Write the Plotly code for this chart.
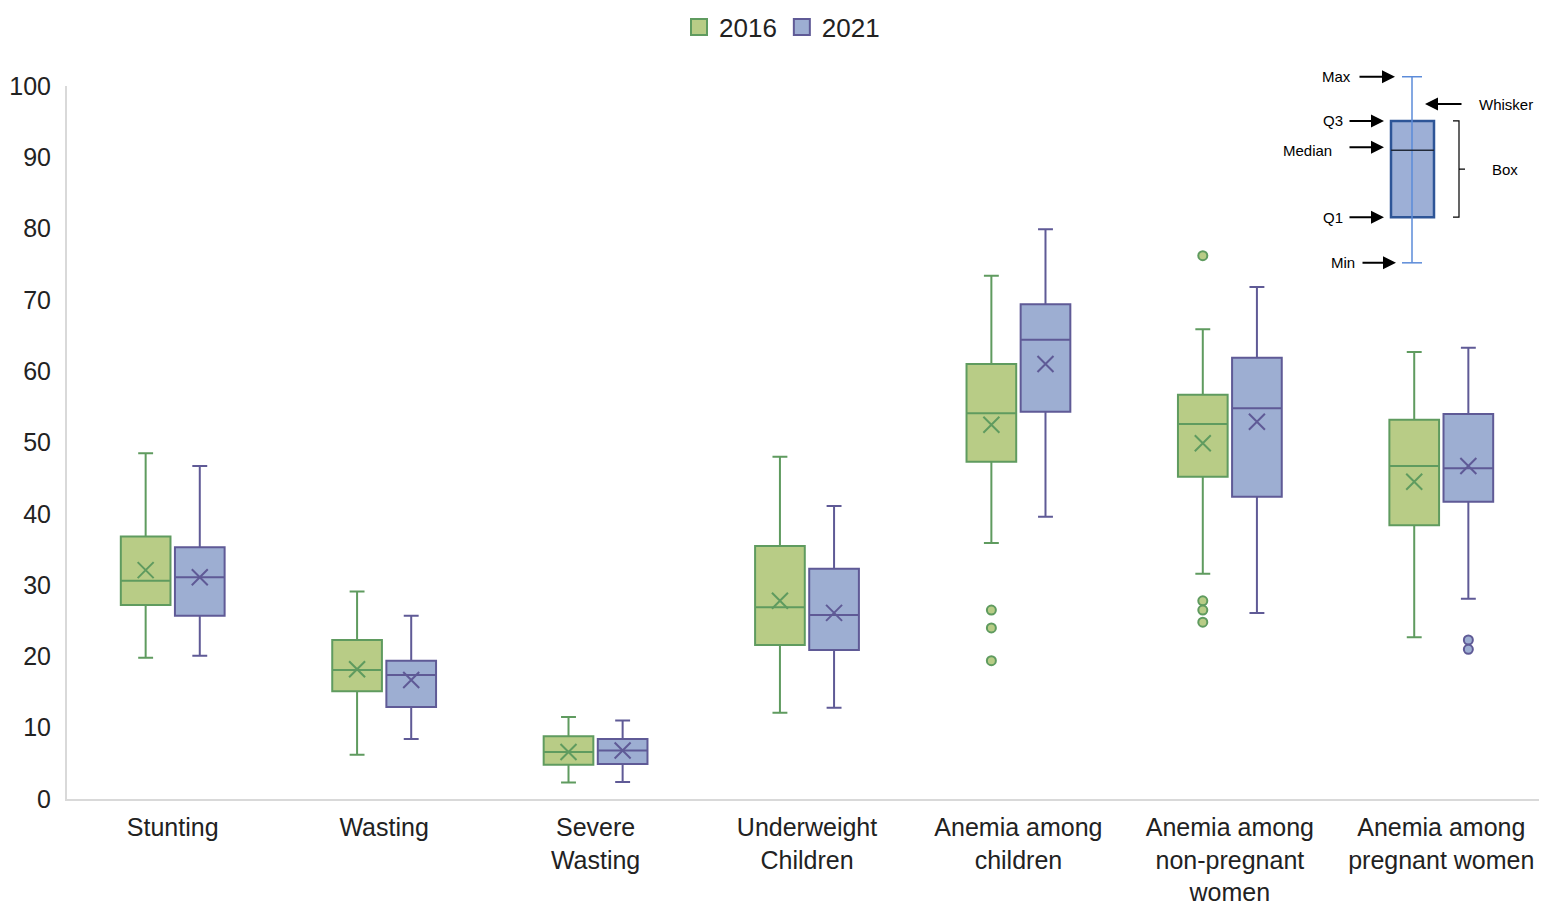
import plotly.graph_objects as go

categories = ["Stunting", "Wasting", "Severe<br>Wasting", "Underweight<br>Children",
              "Anemia among<br>children", "Anemia among<br>non-pregnant<br>women",
              "Anemia among<br>pregnant women"]

# 2016
min_2016 = [19.8, 6.2, 2.3, 12.1, 35.9, 31.6, 22.7]
q1_2016 = [27.2, 15.1, 4.8, 21.6, 47.3, 45.2, 38.4]
med_2016 = [30.6, 18.1, 6.6, 26.9, 54.1, 52.6, 46.7]
q3_2016 = [36.8, 22.3, 8.8, 35.5, 61.0, 56.7, 53.2]
max_2016 = [48.5, 29.1, 11.5, 48.0, 73.4, 65.9, 62.7]
mean_2016 = [32.1, 18.2, 6.6, 27.8, 52.5, 49.9, 44.5]
out_2016 = [[], [], [], [], [26.5, 24.0, 19.4], [76.2, 27.8, 26.5, 24.8], []]

# 2021
min_2021 = [20.1, 8.4, 2.4, 12.8, 39.6, 26.1, 28.1]
q1_2021 = [25.7, 12.9, 4.9, 20.9, 54.3, 42.4, 41.7]
med_2021 = [31.1, 17.4, 6.8, 25.8, 64.4, 54.8, 46.4]
q3_2021 = [35.3, 19.4, 8.4, 32.3, 69.4, 61.9, 54.0]
max_2021 = [46.7, 25.7, 11.0, 41.1, 79.9, 71.8, 63.3]
mean_2021 = [31.1, 16.7, 6.8, 26.1, 61.0, 52.9, 46.7]
out_2021 = [[], [], [], [], [], [], [22.3, 21.0]]

# key (explanatory box) values on the y scale
key_stats = {"min": 75.2, "q1": 81.6, "median": 91.0, "q3": 95.1, "max": 101.3}

C16_FILL, C16_LINE = "#b8cc86", "#5f9b5f"
C21_FILL, C21_LINE = "#9daed2", "#5f5a96"
FONT = "Liberation Sans, Arial, sans-serif"

OFF = 0.128
BW = 0.235
idx = list(range(len(categories)))

fig = go.Figure()

series = [
    ("2016", -OFF, min_2016, q1_2016, med_2016, q3_2016, max_2016, mean_2016, out_2016, C16_FILL, C16_LINE),
    ("2021", OFF, min_2021, q1_2021, med_2021, q3_2021, max_2021, mean_2021, out_2021, C21_FILL, C21_LINE),
]

for name, off, mn, q1, md, q3, mx, mean, outs, fill, line in series:
    xs = [i + off for i in idx]
    fig.add_trace(go.Box(
        x=xs, q1=q1, median=md, q3=q3, lowerfence=mn, upperfence=mx,
        width=BW, fillcolor=fill, line=dict(color=line, width=2),
        whiskerwidth=0.3, boxpoints=False, showlegend=False, name=name,
    ))
    fig.add_trace(go.Scatter(
        x=xs, y=mean, mode="markers", showlegend=False,
        marker=dict(symbol="x-thin", size=16, line=dict(color=line, width=2)),
    ))
    ox, oy = [], []
    for i, vals in zip(idx, outs):
        for v in vals:
            ox.append(i + off)
            oy.append(v)
    fig.add_trace(go.Scatter(
        x=ox, y=oy, mode="markers", showlegend=False,
        marker=dict(symbol="circle", size=9, color=fill, line=dict(color=line, width=2)),
    ))
    fig.add_trace(go.Scatter(
        x=[None], y=[None], mode="markers", name=name,
        marker=dict(symbol="square", size=16, color=fill, line=dict(color=line, width=2)),
    ))

# ---- page geometry (the page body has an 8px margin) ----
PAGE_OFF = 8
W, H = 1547 - PAGE_OFF, 906 - PAGE_OFF
L, R, T, B = 67, 1547, 86, 799  # plot area in window pixels


def px_x(p):
    return (p - L) / (R - L)


def px_y(p):
    return (B - p) / (B - T)


def vy(v):
    return v / 100.0


kx = px_x(1412)
kbl, kbr = px_x(1391), px_x(1434)
kcl, kcr = px_x(1402), px_x(1422)
shapes = [
    dict(type="line", xref="paper", yref="paper", x0=kx, x1=kx, y0=vy(key_stats["min"]), y1=vy(key_stats["max"]),
         line=dict(color="#5b8bd9", width=1.5), layer="above"),
    dict(type="line", xref="paper", yref="paper", x0=kcl, x1=kcr, y0=vy(key_stats["max"]), y1=vy(key_stats["max"]),
         line=dict(color="#5b8bd9", width=1.5)),
    dict(type="line", xref="paper", yref="paper", x0=kcl, x1=kcr, y0=vy(key_stats["min"]), y1=vy(key_stats["min"]),
         line=dict(color="#5b8bd9", width=1.5)),
    dict(type="rect", xref="paper", yref="paper", x0=kbl, x1=kbr, y0=vy(key_stats["q1"]), y1=vy(key_stats["q3"]),
         fillcolor="#9dafd6", line=dict(color="#2e5597", width=2.5), layer="below"),
    dict(type="line", xref="paper", yref="paper", x0=kbl, x1=kbr, y0=vy(key_stats["median"]), y1=vy(key_stats["median"]),
         line=dict(color="#222a3a", width=1.5)),
    dict(type="path", xref="paper", yref="paper",
         path="M {a},{t} L {b},{t} L {b},{bt} L {a},{bt} M {b},{m} L {c},{m}".format(
             a=px_x(1453), b=px_x(1459), c=px_x(1465), t=vy(key_stats["q3"]), bt=vy(key_stats["q1"]),
             m=(vy(key_stats["q3"]) + vy(key_stats["q1"])) / 2),
         line=dict(color="black", width=1.2)),
]

annotations = []


def arrow(hx, hy, tail_dx):
    annotations.append(dict(xref="paper", yref="paper", x=px_x(hx), y=hy, text="", showarrow=True,
                            axref="pixel", ayref="pixel", ax=tail_dx, ay=0, arrowhead=2, arrowsize=1.3,
                            arrowwidth=2, arrowcolor="black"))


def label(text, px, py, anchor):
    annotations.append(dict(xref="paper", yref="paper", x=px_x(px), y=py, text=text, showarrow=False,
                            xanchor=anchor, yanchor="middle", font=dict(family=FONT, size=15, color="black")))


arrow(1395, vy(key_stats["max"]), -37)
label("Max", 1353, vy(key_stats["max"]), "right")
arrow(1425, px_y(104), 38)
label("Whisker", 1477, px_y(104), "left")
arrow(1384, vy(key_stats["q3"]), -36)
label("Q3", 1345, vy(key_stats["q3"]), "right")
arrow(1384, vy(key_stats["median"]) + 0.004, -36)
label("Median", 1334, vy(key_stats["median"]), "right")
arrow(1384, vy(key_stats["q1"]), -36)
label("Q1", 1345, vy(key_stats["q1"]), "right")
arrow(1396, vy(key_stats["min"]), -35)
label("Min", 1357, vy(key_stats["min"]), "right")
label("Box", 1490, (vy(key_stats["q3"]) + vy(key_stats["q1"])) / 2, "left")

fig.update_layout(
    width=W, height=H,
    paper_bgcolor="white", plot_bgcolor="white",
    margin=dict(l=L - PAGE_OFF, r=(PAGE_OFF + W) - R, t=T - PAGE_OFF, b=(PAGE_OFF + H) - B, pad=0,
                autoexpand=False),
    font=dict(family=FONT, color="#222222"),
    boxmode="overlay",
    showlegend=True,
    legend=dict(orientation="h", xref="container", yref="container",
                x=(782 - PAGE_OFF) / W, y=1 - (27 - PAGE_OFF) / H,
                xanchor="center", yanchor="middle", font=dict(size=26, family=FONT, color="#222222"),
                itemsizing="trace", itemwidth=30, tracegroupgap=0),
    xaxis=dict(range=[-0.5, 6.5], tickmode="array", tickvals=idx, ticktext=categories,
               showgrid=False, zeroline=False, showline=True, linecolor="#d9d9d9", linewidth=2,
               automargin=False,
               ticks="", tickfont=dict(size=25, family=FONT, color="#222222"), ticklabelstandoff=5),
    yaxis=dict(range=[0, 100], tickmode="array", tickvals=list(range(0, 101, 10)),
               showgrid=False, zeroline=False, showline=True, linecolor="#d9d9d9", linewidth=2,
               automargin=False,
               ticks="", tickfont=dict(size=25, family=FONT, color="#222222"), ticklabelstandoff=9),
    shapes=shapes,
    annotations=annotations,
)

fig.write_html("out.html")
